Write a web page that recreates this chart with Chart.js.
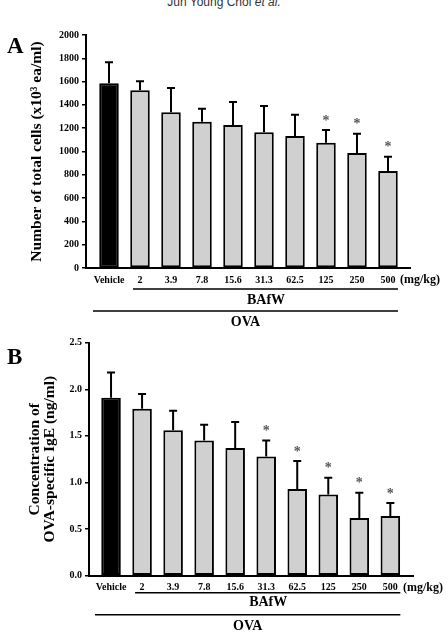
<!DOCTYPE html>
<html>
<head>
<meta charset="utf-8">
<script src="https://cdn.jsdelivr.net/npm/chart.js@4"></script>
<style>
  body { margin: 0; background: #fff; }
  #wrap { position: relative; width: 448px; height: 632px; overflow: hidden; }
  #head { position: absolute; left: 0; top: -4px; width: 448px; text-align: center;
          font: 12px "Liberation Sans", Arial, sans-serif; color: #333; line-height: 12px; }
  canvas { position: absolute; left: 0; }
</style>
</head>
<body>
<div id="wrap">
  <div id="head">Jun Young Choi <i>et al.</i></div>
  <canvas id="chartA" width="448" height="336" style="top:0"></canvas>
  <canvas id="chartB" width="448" height="302" style="top:330px"></canvas>
</div>
<script>
    var categories = ['Vehicle', '2', '3.9', '7.8', '15.6', '31.3', '62.5', '125', '250', '500'];

    // panel A: total cells (x10^3 ea/ml)
    var cellsMean = [1585, 1525, 1336, 1256, 1227, 1165, 1133, 1076, 987, 833];
    var cellsErr = [181, 77, 209, 111, 198, 226, 183, 109, 166, 122];
    var cellsStar = [0, 0, 0, 0, 0, 0, 0, 1, 1, 1];
    var cellsMax = 2000;
    var cellsStep = 200;

    // panel B: OVA-specific IgE (ng/ml)
    var igeMean = [1.91, 1.79, 1.56, 1.45, 1.37, 1.28, 0.93, 0.87, 0.62, 0.64];
    var igeErr = [0.27, 0.16, 0.21, 0.17, 0.28, 0.17, 0.30, 0.18, 0.27, 0.14];
    var igeStar = [0, 0, 0, 0, 0, 1, 1, 1, 1, 1];
    var igeMax = 2.5;
    var igeStep = 0.5;

    var serif = '"Liberation Serif", "Times New Roman", serif';

    function errorBars(means, errs, stars) {
        return {
            id: 'errorBars',
            afterDatasetsDraw: function (chart) {
                var ctx = chart.ctx;
                var xs = chart.scales.x, ys = chart.scales.y;
                ctx.save();
                ctx.strokeStyle = '#000';
                ctx.lineWidth = 2;
                for (var i = 0; i < means.length; i++) {
                    var x = xs.getPixelForValue(i);
                    var y0 = ys.getPixelForValue(means[i]);
                    var y1 = ys.getPixelForValue(means[i] + errs[i]);
                    ctx.beginPath();
                    ctx.moveTo(x, y0);
                    ctx.lineTo(x, y1);
                    ctx.moveTo(x - 4, y1);
                    ctx.lineTo(x + 4, y1);
                    ctx.stroke();
                    if (stars[i]) {
                        ctx.fillStyle = '#555';
                        ctx.font = 'bold 14px ' + serif;
                        ctx.textAlign = 'center';
                        ctx.textBaseline = 'middle';
                        ctx.fillText('*', x, y1 - 9);
                    }
                }
                ctx.restore();
            }
        };
    }

    // letter, unit, BAfW / OVA brackets under the axis
    function panelNotes(letter, letterY, off) {
        return {
            id: 'panelNotes',
            afterDraw: function (chart) {
                var ctx = chart.ctx;
                var a = chart.chartArea;
                var xs = chart.scales.x;
                ctx.save();
                ctx.fillStyle = '#000';
                ctx.strokeStyle = '#000';

                ctx.font = 'bold 23px ' + serif;
                ctx.textAlign = 'left';
                ctx.textBaseline = 'alphabetic';
                ctx.fillText(letter, 7, letterY);

                ctx.textBaseline = 'middle';
                ctx.font = 'bold 12px ' + serif;
                ctx.fillText('(mg/kg)', a.right - 10, a.bottom + 12);

                ctx.lineWidth = 1.5;
                ctx.beginPath();
                ctx.moveTo(xs.getPixelForValue(1) - 7, a.bottom + off.line1);
                ctx.lineTo(xs.getPixelForValue(9) + 10, a.bottom + off.line1);
                ctx.moveTo(xs.getPixelForValue(0) - 16, a.bottom + off.line2);
                ctx.lineTo(xs.getPixelForValue(9) + 10, a.bottom + off.line2);
                ctx.stroke();

                ctx.font = 'bold 14px ' + serif;
                ctx.textAlign = 'center';
                ctx.fillText('BAfW', (xs.getPixelForValue(1) + xs.getPixelForValue(9)) / 2 + 2, a.bottom + off.text1);
                ctx.fillText('OVA', (xs.getPixelForValue(0) + xs.getPixelForValue(9)) / 2 - 3, a.bottom + off.text2);
                ctx.restore();
            }
        };
    }

    function makeChart(id, means, errs, stars, yMax, yStep, yTitle, box, plugins) {
        var ctx = document.getElementById(id).getContext('2d');
        return new Chart(ctx, {
            type: 'bar',
            data: {
                datasets: [{
                    data: means.map(function (v, i) { return { x: i, y: v }; }),
                    backgroundColor: means.map(function (v, i) { return i === 0 ? '#000' : '#d0d0d0'; }),
                    borderColor: '#000',
                    borderWidth: 2,
                    borderSkipped: false,
                    barPercentage: 0.63,
                    categoryPercentage: 1
                }]
            },
            options: {
                responsive: false,
                animation: false,
                layout: { padding: { top: box.top, right: box.right, left: 0, bottom: 0 } },
                plugins: { legend: { display: false }, tooltip: { enabled: false } },
                scales: {
                    x: {
                        type: 'linear',
                        offset: false,
                        min: box.xMin,
                        max: box.xMax,
                        grid: { display: false, drawTicks: false },
                        border: { display: true, color: '#000', width: 2 },
                        ticks: {
                            autoSkip: false,
                            maxRotation: 0,
                            padding: 6,
                            color: '#000',
                            font: { family: serif, size: 10, weight: 'bold' },
                            callback: function (v) { return categories[v]; }
                        },
                        afterBuildTicks: function (s) {
                            s.ticks = categories.map(function (c, i) { return { value: i }; });
                        },
                        afterFit: function (s) { s.height = box.xHeight; }
                    },
                    y: {
                        min: 0,
                        max: yMax,
                        grid: { display: true, drawOnChartArea: false, drawTicks: true, tickLength: 4, color: '#000', lineWidth: 1.5 },
                        border: { display: true, color: '#000', width: 2 },
                        ticks: {
                            stepSize: yStep,
                            padding: 3,
                            color: '#000',
                            font: { family: serif, size: 10, weight: 'bold' },
                            callback: function (v) { return yStep < 1 ? v.toFixed(1) : v; }
                        },
                        title: {
                            display: true,
                            text: yTitle,
                            color: '#000',
                            font: { family: serif, size: 15.5, weight: 'bold', lineHeight: box.titleLh },
                            padding: { top: box.titlePad, bottom: 0 }
                        },
                        afterFit: function (s) { s.width = box.yWidth; }
                    }
                }
            },
            plugins: plugins
        });
    }

    makeChart('chartA', cellsMean, cellsErr, cellsStar, cellsMax, cellsStep,
        'Number of total cells (x10\u00b3 ea/ml)',
        { top: 35, right: 38, xMin: -0.742, xMax: 9.71, xHeight: 68, yWidth: 86, titlePad: 28.9, titleLh: 1.05 },
        [errorBars(cellsMean, cellsErr, cellsStar),
         panelNotes('A', 53, { line1: 21, text1: 32, line2: 43, text2: 54 })]);

    makeChart('chartB', igeMean, igeErr, igeStar, igeMax, igeStep,
        ['Concentration of', 'OVA-specific IgE (ng/ml)'],
        { top: 12.7, right: 35, xMin: -0.71, xMax: 9.73, xHeight: 56.3, yWidth: 89, titlePad: 27.6, titleLh: 0.95 },
        [errorBars(igeMean, igeErr, igeStar),
         panelNotes('B', 34, { line1: 17, text1: 27, line2: 39, text2: 51 })]);
</script>
</body>
</html>
